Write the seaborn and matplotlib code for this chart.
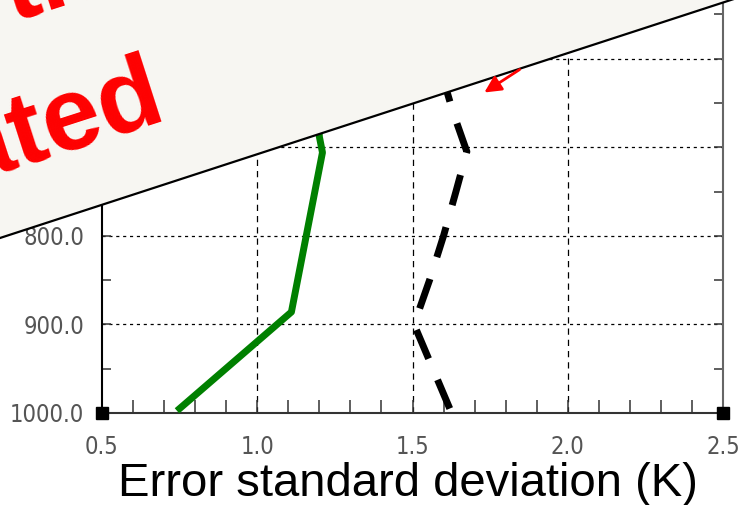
import numpy as np
import pandas as pd
import matplotlib
matplotlib.use("Agg")
import matplotlib.pyplot as plt
from matplotlib.patches import Polygon, FancyArrowPatch
from matplotlib.lines import Line2D
import matplotlib.ticker as mtick
import seaborn as sns

# perfil de erro (verde) e perfil tracejado (preto)
pressao_verde = [995, 886, 706, 688, 600]
erro_verde = [0.75, 1.11, 1.21, 1.20, 1.19]

pressao_preta = [995, 900, 850, 800, 750, 705, 660, 600]
erro_preta = [1.62, 1.505, 1.555, 1.60, 1.64, 1.675, 1.63, 1.58]

x_ticks = [0.5, 1.0, 1.5, 2.0, 2.5]
y_ticks = [1000, 900, 800, 700, 600, 500]
xlim = (0.5, 2.5)
ylim = (1000, 500)

W, H = 738, 505


def px(x, y):
    # pixel da imagem -> coordenada da figura
    return (x / W, 1 - y / H)


fig = plt.figure(figsize=(W / 100, H / 100), dpi=100)
fig.patch.set_facecolor("white")
# o topo do grafico fica fora da imagem (recorte)
ax = fig.add_axes([102 / W, 92 / H, 621 / W, 443 / H])

df_verde = pd.DataFrame({"erro": erro_verde, "pressao": pressao_verde})
df_preta = pd.DataFrame({"erro": erro_preta, "pressao": pressao_preta})

sns.lineplot(data=df_verde, x="erro", y="pressao", sort=False, estimator=None,
             color="#008000", linewidth=5, ax=ax, zorder=4)
sns.lineplot(data=df_preta, x="erro", y="pressao", sort=False, estimator=None,
             color="black", linewidth=5, ax=ax, zorder=4)
ax.lines[-1].set_linestyle((0, (4.5, 3.3)))
ax.lines[-1].set_solid_capstyle("butt")

ax.set_xlim(*xlim)
ax.set_ylim(*ylim)

# grade
for xv in x_ticks[1:-1]:
    ax.axvline(xv, color="black", lw=0.9, ls=(0, (5, 4)), zorder=1)
for yv in y_ticks[1:-1]:
    ax.axhline(yv, color="black", lw=0.9, ls=(0, (2.5, 3)), zorder=1)

ax.xaxis.set_major_locator(mtick.FixedLocator(x_ticks))
ax.xaxis.set_minor_locator(mtick.MultipleLocator(0.1))
ax.yaxis.set_major_locator(mtick.FixedLocator(y_ticks))
ax.yaxis.set_minor_locator(mtick.MultipleLocator(50))
ax.xaxis.set_major_formatter(mtick.FormatStrFormatter("%.1f"))
ax.yaxis.set_major_formatter(mtick.FormatStrFormatter("%.1f"))

ax.tick_params(axis="x", which="both", direction="in", length=9.5, width=1.1,
               color="#333333", pad=16, top=False)
ax.tick_params(axis="y", which="both", direction="in", length=6.5, width=1.1,
               color="#333333", pad=13, right=True)
for lab in ax.get_xticklabels() + ax.get_yticklabels():
    lab.set_family(["DejaVu Sans"])
    lab.set_fontstretch("condensed")
    lab.set_fontsize(17)
    lab.set_color("#555555")

ax.set_xlabel("")
ax.set_ylabel("")
ax.spines["top"].set_visible(False)
ax.spines["left"].set_color("black")
ax.spines["bottom"].set_color("#333333")
ax.spines["right"].set_color("#666666")
for s in ("left", "bottom", "right"):
    ax.spines[s].set_linewidth(1.5)

# quadradinhos nos cantos
ax.plot([xlim[0], xlim[1]], [ylim[0], ylim[0]], "s", color="black", ms=9,
        clip_on=False, zorder=5)

fig.text(408 / W, 9 / H, "Error standard deviation (K)", ha="center",
         va="baseline", fontsize=34, color="black",
         family=["Liberation Sans", "DejaVu Sans"])

# folha sobreposta (inclinada) cobrindo a parte de cima
borda = [px(0, 238), px(740, -3)]
folha = Polygon([borda[0], borda[1], px(740, -60), px(0, -60)], closed=True,
                transform=fig.transFigure, facecolor="#f7f6f2", edgecolor="none",
                zorder=10)
fig.patches.append(folha)
fig.lines.append(Line2D([borda[0][0], borda[1][0]], [borda[0][1], borda[1][1]],
                        transform=fig.transFigure, color="black", lw=1.6, zorder=11))

angulo = np.degrees(np.arctan(238 / 738))
fig.text(*px(168, 118), "ated", rotation=angulo, rotation_mode="anchor",
         ha="right", va="baseline", fontsize=75, fontweight="bold", color="red",
         family=["Liberation Sans", "DejaVu Sans"], zorder=12)
fig.text(*px(106, -8), "th", rotation=angulo, rotation_mode="anchor",
         ha="right", va="baseline", fontsize=75, fontweight="bold", color="red",
         family=["Liberation Sans", "DejaVu Sans"], zorder=12)

seta = FancyArrowPatch(px(522, 68), px(482, 94), transform=fig.transFigure,
                       arrowstyle="-|>,head_length=10,head_width=5",
                       color="red", lw=2, zorder=12, mutation_scale=1)
fig.patches.append(seta)

fig.savefig("out.png", dpi=100)
